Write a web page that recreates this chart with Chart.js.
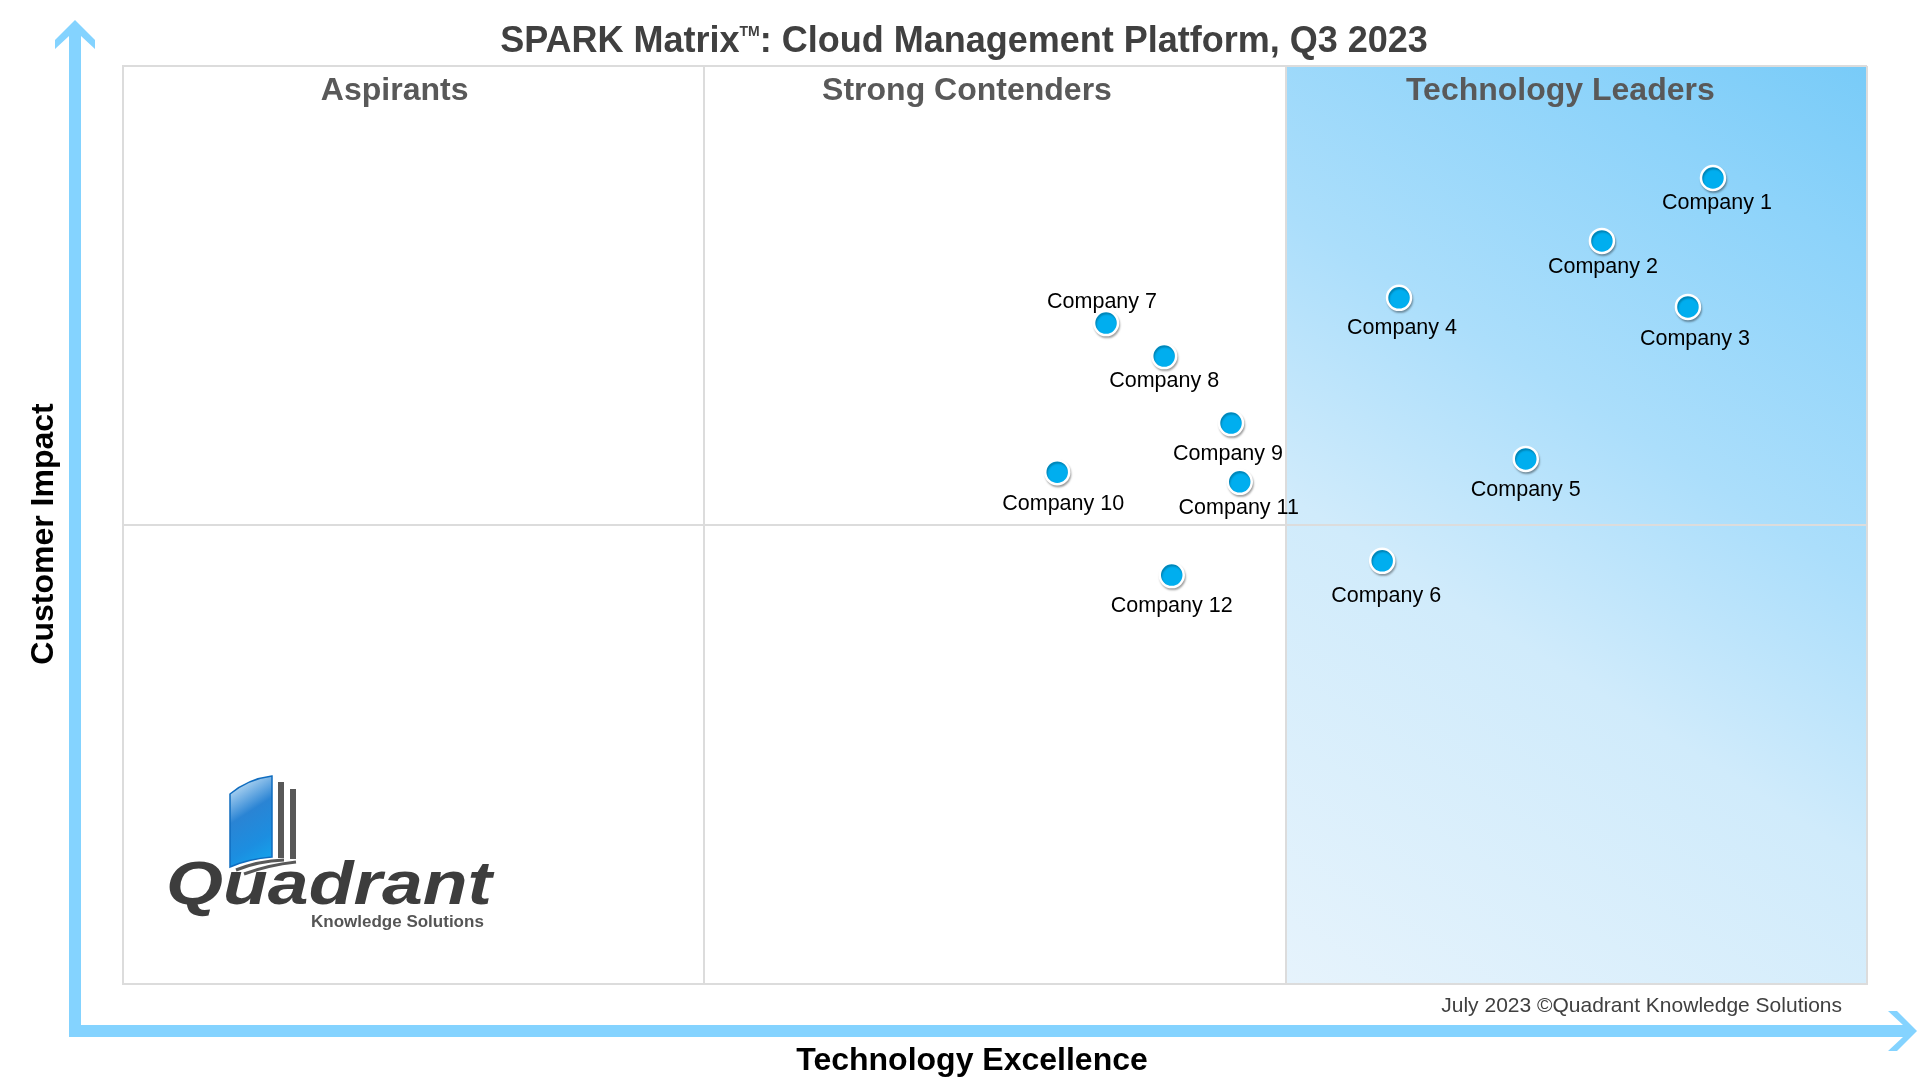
<!DOCTYPE html>
<html lang="en">
<head>
  <meta charset="UTF-8">
  <title>SPARK Matrix: Cloud Management Platform, Q3 2023</title>
  <style>
    html, body {
      margin: 0;
      padding: 0;
      background: #ffffff;
    }
    .wrap {
      width: 1920px;
      height: 1080px;
      position: relative;
    }
  </style>
  <script src="https://cdn.jsdelivr.net/npm/chart.js"></script>
</head>
<body>
  <div class="wrap">
    <canvas id="sparkChart"></canvas>
  </div>

  <script>
    // data (x: Technology Excellence 0-3, y: Customer Impact 0-2)
    const companies = ['Company 1', 'Company 2', 'Company 3', 'Company 4', 'Company 5', 'Company 6',
                       'Company 7', 'Company 8', 'Company 9', 'Company 10', 'Company 11', 'Company 12'];
    const techExcellence = [2.735, 2.544, 2.692, 2.195, 2.413, 2.166, 1.691, 1.791, 1.906, 1.607, 1.921, 1.804];
    const customerImpact = [1.756, 1.619, 1.475, 1.495, 1.144, 0.922, 1.440, 1.368, 1.222, 1.115, 1.094, 0.891];
    const quadrantNames = ['Aspirants', 'Strong Contenders', 'Technology Leaders'];

    const FONT = '"Liberation Sans", Arial, sans-serif';
    const ARROW = '#84d3ff';

    // label placement around each dot [dx, dy]
    const labelOffsets = [[4, 25], [1, 26], [7, 32], [3, 30], [0, 31], [4, 35],
                          [-4, -21], [0, 25], [-3, 31], [6, 32], [-1, 26], [0, 31]];

    const points = techExcellence.map((x, i) => ({ x, y: customerImpact[i] }));

    const backdrop = {
      id: 'backdrop',
      beforeDraw(chart) {
        const { ctx, chartArea: a, scales: { x } } = chart;
        ctx.save();
        ctx.fillStyle = '#ffffff';
        ctx.fillRect(0, 0, chart.width, chart.height);
        const x0 = x.getPixelForValue(2), x1 = x.getPixelForValue(3);
        const g = ctx.createLinearGradient(x0, a.bottom, x1, a.top);
        g.addColorStop(0, '#e6f3fc');
        g.addColorStop(0.38, '#d0ebfb');
        g.addColorStop(0.6, '#abdefb');
        g.addColorStop(0.85, '#8dd3fa');
        g.addColorStop(1, '#78cbf8');
        ctx.fillStyle = g;
        ctx.fillRect(x0, a.top, x1 - x0, a.bottom - a.top);
        ctx.restore();
      }
    };

    const dotShadow = {
      id: 'dotShadow',
      beforeDatasetsDraw(chart) {
        const ctx = chart.ctx;
        ctx.save();
        ctx.shadowColor = 'rgba(0,0,0,0.28)';
        ctx.shadowBlur = 2;
        ctx.shadowOffsetX = 1;
        ctx.shadowOffsetY = 2;
      },
      afterDatasetsDraw(chart) {
        chart.ctx.restore();
      }
    };

    const pointLabels = {
      id: 'pointLabels',
      afterDatasetsDraw(chart) {
        const ctx = chart.ctx;
        const meta = chart.getDatasetMeta(0);
        ctx.save();
        ctx.font = '21.5px ' + FONT;
        ctx.fillStyle = '#000000';
        ctx.textAlign = 'center';
        ctx.textBaseline = 'middle';
        meta.data.forEach((pt, i) => {
          const off = labelOffsets[i];
          ctx.fillText(companies[i], pt.x + off[0], pt.y + off[1]);
        });
        ctx.restore();
      }
    };

    function drawLogo(ctx) {
      // book icon
      const g = ctx.createLinearGradient(228, 790, 274, 862);
      g.addColorStop(0, '#b5d8f3');
      g.addColorStop(0.35, '#2a84d4');
      g.addColorStop(0.7, '#1c8ee0');
      g.addColorStop(1, '#13a6ee');
      ctx.fillStyle = g;
      ctx.beginPath();
      ctx.moveTo(230, 794);
      ctx.quadraticCurveTo(248, 779, 272, 776);
      ctx.lineTo(272, 857);
      ctx.quadraticCurveTo(248, 859, 230, 867);
      ctx.closePath();
      ctx.fill();
      ctx.strokeStyle = '#0f6cbf';
      ctx.lineWidth = 1.5;
      ctx.stroke();

      ctx.fillStyle = '#585858';
      ctx.fillRect(278, 782, 6, 76);
      ctx.fillRect(290, 789, 6, 70);
      ctx.strokeStyle = '#585858';
      ctx.lineWidth = 3;
      ctx.beginPath();
      ctx.moveTo(236, 870);
      ctx.quadraticCurveTo(258, 861, 284, 860);
      ctx.stroke();
      ctx.beginPath();
      ctx.moveTo(244, 874);
      ctx.quadraticCurveTo(268, 865, 296, 862);
      ctx.stroke();

      // wordmark
      ctx.fillStyle = '#3d3d3d';
      ctx.font = 'bold italic 62px ' + FONT;
      ctx.textAlign = 'left';
      ctx.textBaseline = 'alphabetic';
      const w = ctx.measureText('Quadrant').width;
      ctx.save();
      ctx.translate(166, 904);
      ctx.scale(326 / w, 1);
      ctx.fillText('Quadrant', 0, 0);
      ctx.restore();

      ctx.fillStyle = '#555555';
      ctx.font = 'bold 17px ' + FONT;
      ctx.fillText('Knowledge Solutions', 311, 927);
    }

    const decorations = {
      id: 'decorations',
      afterDraw(chart) {
        const { ctx, scales: { x } } = chart;
        ctx.save();

        // axis arrows
        ctx.fillStyle = ARROW;
        ctx.beginPath();
        ctx.moveTo(75, 20);
        ctx.lineTo(95, 40);
        ctx.lineTo(95, 49);
        ctx.lineTo(81, 36);
        ctx.lineTo(81, 1037);
        ctx.lineTo(69, 1037);
        ctx.lineTo(69, 36);
        ctx.lineTo(55, 49);
        ctx.lineTo(55, 40);
        ctx.closePath();
        ctx.fill();

        ctx.beginPath();
        ctx.moveTo(1917, 1031);
        ctx.lineTo(1897, 1051);
        ctx.lineTo(1888, 1051);
        ctx.lineTo(1903, 1037);
        ctx.lineTo(69, 1037);
        ctx.lineTo(69, 1025);
        ctx.lineTo(1903, 1025);
        ctx.lineTo(1888, 1011);
        ctx.lineTo(1897, 1011);
        ctx.closePath();
        ctx.fill();

        // title with superscript TM
        ctx.fillStyle = '#404040';
        ctx.textBaseline = 'alphabetic';
        ctx.textAlign = 'left';
        const big = 'bold 36px ' + FONT, small = 'bold 14px ' + FONT;
        const p1 = 'SPARK Matrix', tm = 'TM', p2 = ': Cloud Management Platform, Q3 2023';
        ctx.font = big;
        const w1 = ctx.measureText(p1).width, w3 = ctx.measureText(p2).width;
        ctx.font = small;
        const w2 = ctx.measureText(tm).width;
        let tx = 964 - (w1 + w2 + w3) / 2;
        ctx.font = big;
        ctx.fillText(p1, tx, 52);
        tx += w1;
        ctx.font = small;
        ctx.fillText(tm, tx, 36);
        tx += w2;
        ctx.font = big;
        ctx.fillText(p2, tx, 52);

        // quadrant headings
        ctx.fillStyle = '#595959';
        ctx.font = 'bold 32px ' + FONT;
        ctx.textAlign = 'center';
        const shifts = [-19, -28, -16];
        quadrantNames.forEach((name, i) => {
          ctx.fillText(name, x.getPixelForValue(i + 0.5) + shifts[i], 100);
        });

        // axis titles
        ctx.fillStyle = '#000000';
        ctx.font = 'bold 32px ' + FONT;
        ctx.fillText('Technology Excellence', 972, 1070);
        ctx.save();
        ctx.translate(41, 534);
        ctx.rotate(-Math.PI / 2);
        ctx.fillText('Customer Impact', 0, 12);
        ctx.restore();

        // footer
        ctx.fillStyle = '#404040';
        ctx.font = '21px ' + FONT;
        ctx.textAlign = 'right';
        ctx.fillText('July 2023 \u00A9Quadrant Knowledge Solutions', 1842, 1012);

        drawLogo(ctx);
        ctx.restore();
      }
    };

    const gridStyle = { color: '#dcdcdc', lineWidth: 2, drawTicks: false };
    const borderStyle = { display: true, color: '#dcdcdc', width: 2 };

    new Chart(document.getElementById('sparkChart'), {
      type: 'scatter',
      data: {
        datasets: [{
          label: 'Vendors',
          data: points,
          pointRadius: 12,
          pointHoverRadius: 12,
          backgroundColor: '#00aeef',
          borderColor: '#ffffff',
          borderWidth: 2.5
        }]
      },
      options: {
        responsive: true,
        maintainAspectRatio: false,
        animation: false,
        layout: { padding: { left: 123, top: 66, right: 53, bottom: 96 } },
        plugins: {
          legend: { display: false },
          tooltip: { enabled: false }
        },
        scales: {
          x: {
            type: 'linear', min: 0, max: 3,
            ticks: { display: false, stepSize: 1 },
            grid: gridStyle, border: borderStyle
          },
          y: {
            type: 'linear', min: 0, max: 2,
            ticks: { display: false, stepSize: 1 },
            grid: gridStyle, border: borderStyle
          }
        }
      },
      plugins: [backdrop, dotShadow, pointLabels, decorations]
    });
  </script>
</body>
</html>
